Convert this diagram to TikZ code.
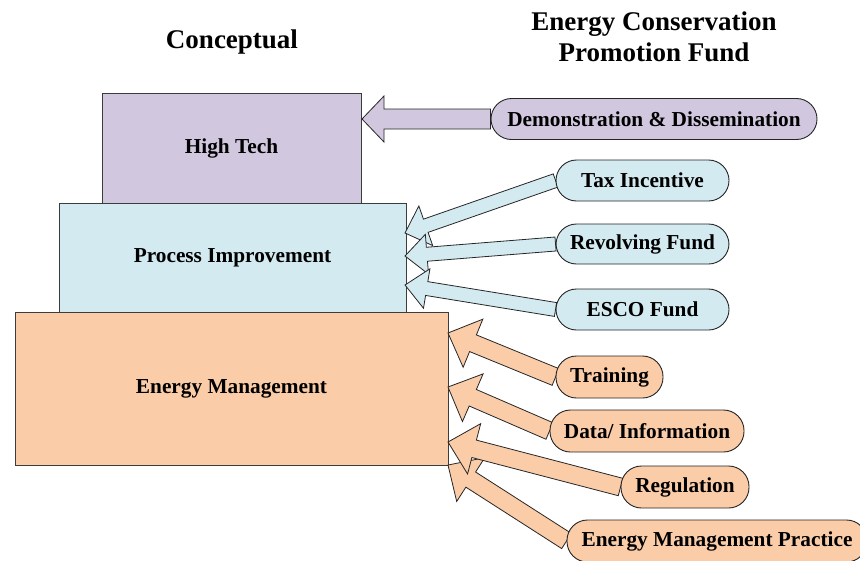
\documentclass[tikz,border=0pt]{standalone}
\usepackage{fontspec}
\setmainfont{Liberation Serif}
\usetikzlibrary{calc}
\definecolor{lav}{RGB}{209,199,222}
\definecolor{cyanl}{RGB}{210,234,240}
\definecolor{peach}{RGB}{250,204,168}
\definecolor{edgec}{RGB}{60,60,60}
% #1 style, #2 tail, #3 tip, #4 shaft half width, #5 head half width, #6 head length
\newcommand{\blockarrow}[6]{%
  \path[#1] let \p1=(#2), \p2=(#3), \n1={atan2(\y1-\y2,\x1-\x2)}, \n2={veclen(\x1-\x2,\y1-\y2)} in
    [shift={(\p2)}, rotate=\n1] (0pt,0pt) -- (#6pt,#5pt) -- (#6pt,#4pt) -- (\n2,#4pt)
    -- (\n2,-#4pt) -- (#6pt,-#4pt) -- (#6pt,-#5pt) -- cycle;}
\begin{document}
\begin{tikzpicture}[x=1pt,y=-1pt,
  lbl/.style={font=\fontsize{21.3}{25}\selectfont\bfseries},
  headtxt/.style={font=\fontsize{27}{31}\selectfont\bfseries, align=center},
  tier/.style={draw=edgec, line width=0.9pt, inner sep=0pt, lbl},
  pill/.style={draw=black!85, line width=0.9pt, rounded corners=20.5pt, inner sep=0pt, minimum height=41, lbl},
  barrow/.style={draw=black!85, line width=0.8pt, line join=miter}]
\useasboundingbox (0,0) rectangle (860,560);
\clip (0,0) rectangle (860,560);

% headings
\node[headtxt] (h1) at (232,42) {Conceptual};
\node[headtxt] (h2) at (654,37) {Energy Conservation\\Promotion Fund};

% tiers
\node[tier, fill=lav, minimum width=259, minimum height=110] (ht) at (231.5,148) {High Tech};
\node[tier, fill=cyanl, minimum width=347, minimum height=109] (pi) at (232.5,257.5) {Process Improvement};
\node[tier, fill=peach, minimum width=433, minimum height=153] (em) at (231.5,388.5) {Energy Management};

% pills (positions)
\coordinate (cdemo) at (654,119);
\coordinate (ctax) at (642.5,180.5);
\coordinate (crev) at (642.5,244);
\coordinate (cesco) at (642.5,309.5);
\coordinate (ctrain) at (609.5,377);
\coordinate (cdata) at (647,431);
\coordinate (creg) at (685,487);
\coordinate (cemp) at (717,541);

% tips
\coordinate (tdemo) at (362,119);
\coordinate (ttax) at (405,233);
\coordinate (trev) at (405,256);
\coordinate (tesco) at (405,285);
\coordinate (ttrain) at (448,333);
\coordinate (tdata) at (448,387);
\coordinate (treg) at (448,442);
\coordinate (temp) at (448,465);

% pill nodes (names only; drawn later on top)
\path node[pill, draw=none, minimum width=326] (demo) at (cdemo) {}
      node[pill, draw=none, minimum width=173] (tax) at (ctax) {}
      node[pill, draw=none, minimum width=173, minimum height=40] (rev) at (crev) {}
      node[pill, draw=none, minimum width=173] (esco) at (cesco) {}
      node[pill, draw=none, minimum width=107, minimum height=42] (train) at (ctrain) {}
      node[pill, draw=none, minimum width=194, minimum height=42] (data) at (cdata) {}
      node[pill, draw=none, minimum width=128, minimum height=42] (reg) at (creg) {}
      node[pill, draw=none, minimum width=300, minimum height=42] (emp) at (cemp) {};

% arrows
\blockarrow{barrow, fill=lav}{demo.west}{tdemo}{10}{23}{22}
\blockarrow{barrow, fill=cyanl}{tax.west}{ttax}{7}{21}{22}
\blockarrow{barrow, fill=cyanl}{rev.west}{trev}{7}{20}{22}
\blockarrow{barrow, fill=cyanl}{esco.west}{tesco}{7}{20}{22}
\blockarrow{barrow, fill=peach}{emp.west}{temp}{9}{26}{27}
\blockarrow{barrow, fill=peach}{reg.west}{treg}{9}{26}{27}
\blockarrow{barrow, fill=peach}{data.west}{tdata}{9}{26}{27}
\blockarrow{barrow, fill=peach}{train.west}{ttrain}{9}{26}{27}

% pills drawn on top
\node[pill, fill=lav, minimum width=326] at (cdemo) {Demonstration \& Dissemination};
\node[pill, fill=cyanl, minimum width=173] at (ctax) {Tax Incentive};
\node[pill, fill=cyanl, minimum width=173, minimum height=40] at (crev) {Revolving Fund};
\node[pill, fill=cyanl, minimum width=173] at (cesco) {ESCO Fund};
\node[pill, fill=peach, minimum width=107, minimum height=42] at (ctrain) {Training};
\node[pill, fill=peach, minimum width=194, minimum height=42] at (cdata) {Data/ Information};
\node[pill, fill=peach, minimum width=128, minimum height=42] at (creg) {Regulation};
\node[pill, fill=peach, minimum width=300, minimum height=42] at (cemp) {Energy Management Practice};
\end{tikzpicture}
\end{document}
